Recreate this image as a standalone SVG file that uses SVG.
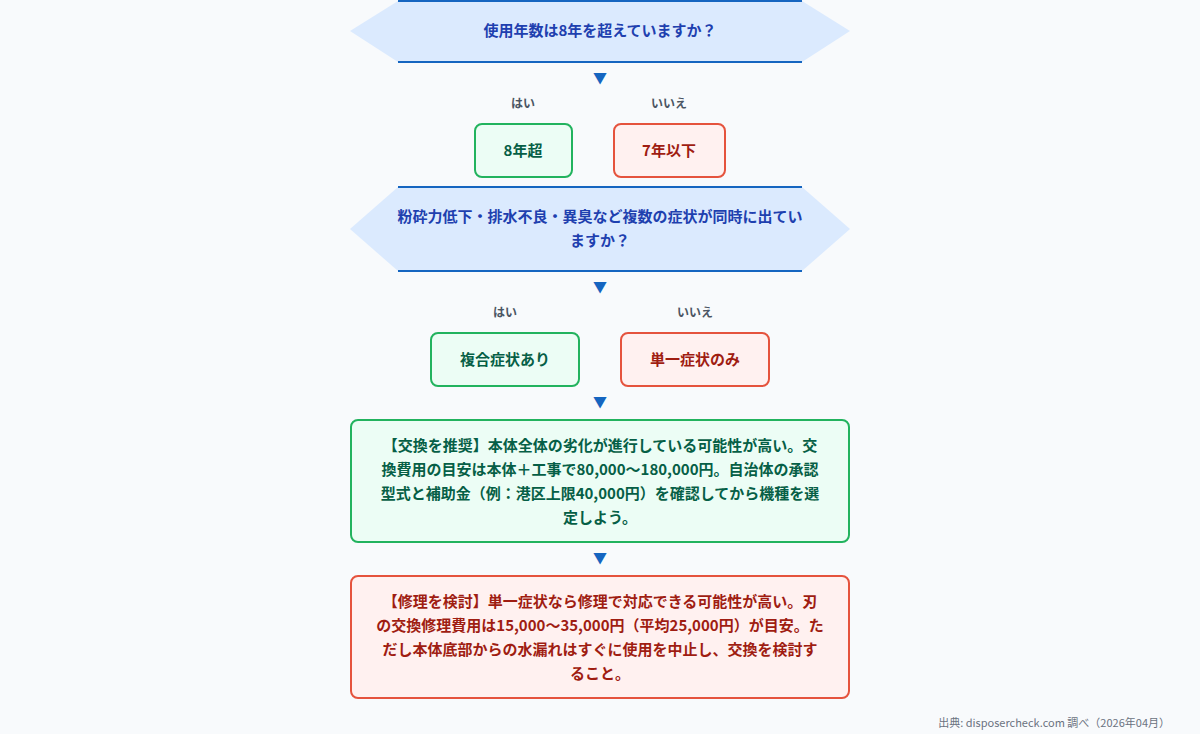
<svg xmlns="http://www.w3.org/2000/svg" width="1200" height="734" viewBox="0 0 1200 734">
<style>
text{font-family:"Noto Sans CJK JP","Noto Sans",sans-serif;font-weight:bold;text-anchor:middle}
.q{fill:#1e40af;font-size:15px}
.hx{fill:#dbeafe}
.hl{stroke:#1565c0;stroke-width:2}
.lbl{fill:#4b5563;font-size:12px}
.g{fill:#ecfdf5;stroke:#22b35e;stroke-width:2}
.r{fill:#fff1f0;stroke:#e5533d;stroke-width:2}
.gt{fill:#065f46;font-size:15px}
.rt{fill:#9f1d12;font-size:15px}
.ar{fill:#1565c0;font-size:14px}
</style>
<rect width="1200" height="734" fill="#f8fafc"/>
<g id="q1"><polygon class="hx" points="398,1 802,1 850,31 802,62 398,62 350,31"/><line class="hl" x1="398" y1="1" x2="802" y2="1"/><line class="hl" x1="398" y1="62" x2="802" y2="62"/><text class="q" x="600" y="36">使用年数は8年を超えていますか？</text></g>
<g id="connectors">
<text class="ar" x="600" y="83">▼</text>
<text class="ar" x="600" y="292">▼</text>
<text class="ar" x="600" y="407">▼</text>
<text class="ar" x="600" y="563">▼</text>
<text class="lbl" x="523" y="108">はい</text>
<text class="lbl" x="669" y="108">いいえ</text>
<text class="lbl" x="505" y="317">はい</text>
<text class="lbl" x="695" y="317">いいえ</text>
</g>
<g id="a1"><rect class="g" x="475" y="124" width="97" height="53" rx="7"/><text class="gt" x="523" y="156">8年超</text></g>
<g id="b1"><rect class="r" x="614" y="124" width="111" height="53" rx="7"/><text class="rt" x="669" y="156">7年以下</text></g>
<g id="q2"><polygon class="hx" points="398,187 802,187 850,229 802,271 398,271 350,229"/><line class="hl" x1="398" y1="187" x2="802" y2="187"/><line class="hl" x1="398" y1="271" x2="802" y2="271"/><text class="q" x="600" y="222">粉砕力低下・排水不良・異臭など複数の症状が同時に出てい</text><text class="q" x="600" y="246">ますか？</text></g>
<g id="a2"><rect class="g" x="431" y="333" width="148" height="53" rx="7"/><text class="gt" x="505" y="365">複合症状あり</text></g>
<g id="b2"><rect class="r" x="621" y="333" width="148" height="53" rx="7"/><text class="rt" x="695" y="365">単一症状のみ</text></g>
<g id="r1"><rect class="g" x="351" y="420" width="498" height="122" rx="7"/>
<text class="gt" x="600" y="451">【交換を推奨】本体全体の劣化が進行している可能性が高い。交</text>
<text class="gt" x="600" y="475">換費用の目安は本体＋工事で80,000〜180,000円。自治体の承認</text>
<text class="gt" x="600" y="499">型式と補助金（例：港区上限40,000円）を確認してから機種を選</text>
<text class="gt" x="600" y="523">定しよう。</text></g>
<g id="r2"><rect class="r" x="351" y="576" width="498" height="122" rx="7"/>
<text class="rt" x="600" y="607">【修理を検討】単一症状なら修理で対応できる可能性が高い。刃</text>
<text class="rt" x="600" y="631">の交換修理費用は15,000〜35,000円（平均25,000円）が目安。た</text>
<text class="rt" x="600" y="655">だし本体底部からの水漏れはすぐに使用を中止し、交換を検討す</text>
<text class="rt" x="600" y="679">ること。</text></g>
<text x="1170" y="727" style="font-weight:normal;text-anchor:end;font-size:11px;fill:#6b7280">出典: disposercheck.com 調べ（2026年04月）</text>
</svg>
